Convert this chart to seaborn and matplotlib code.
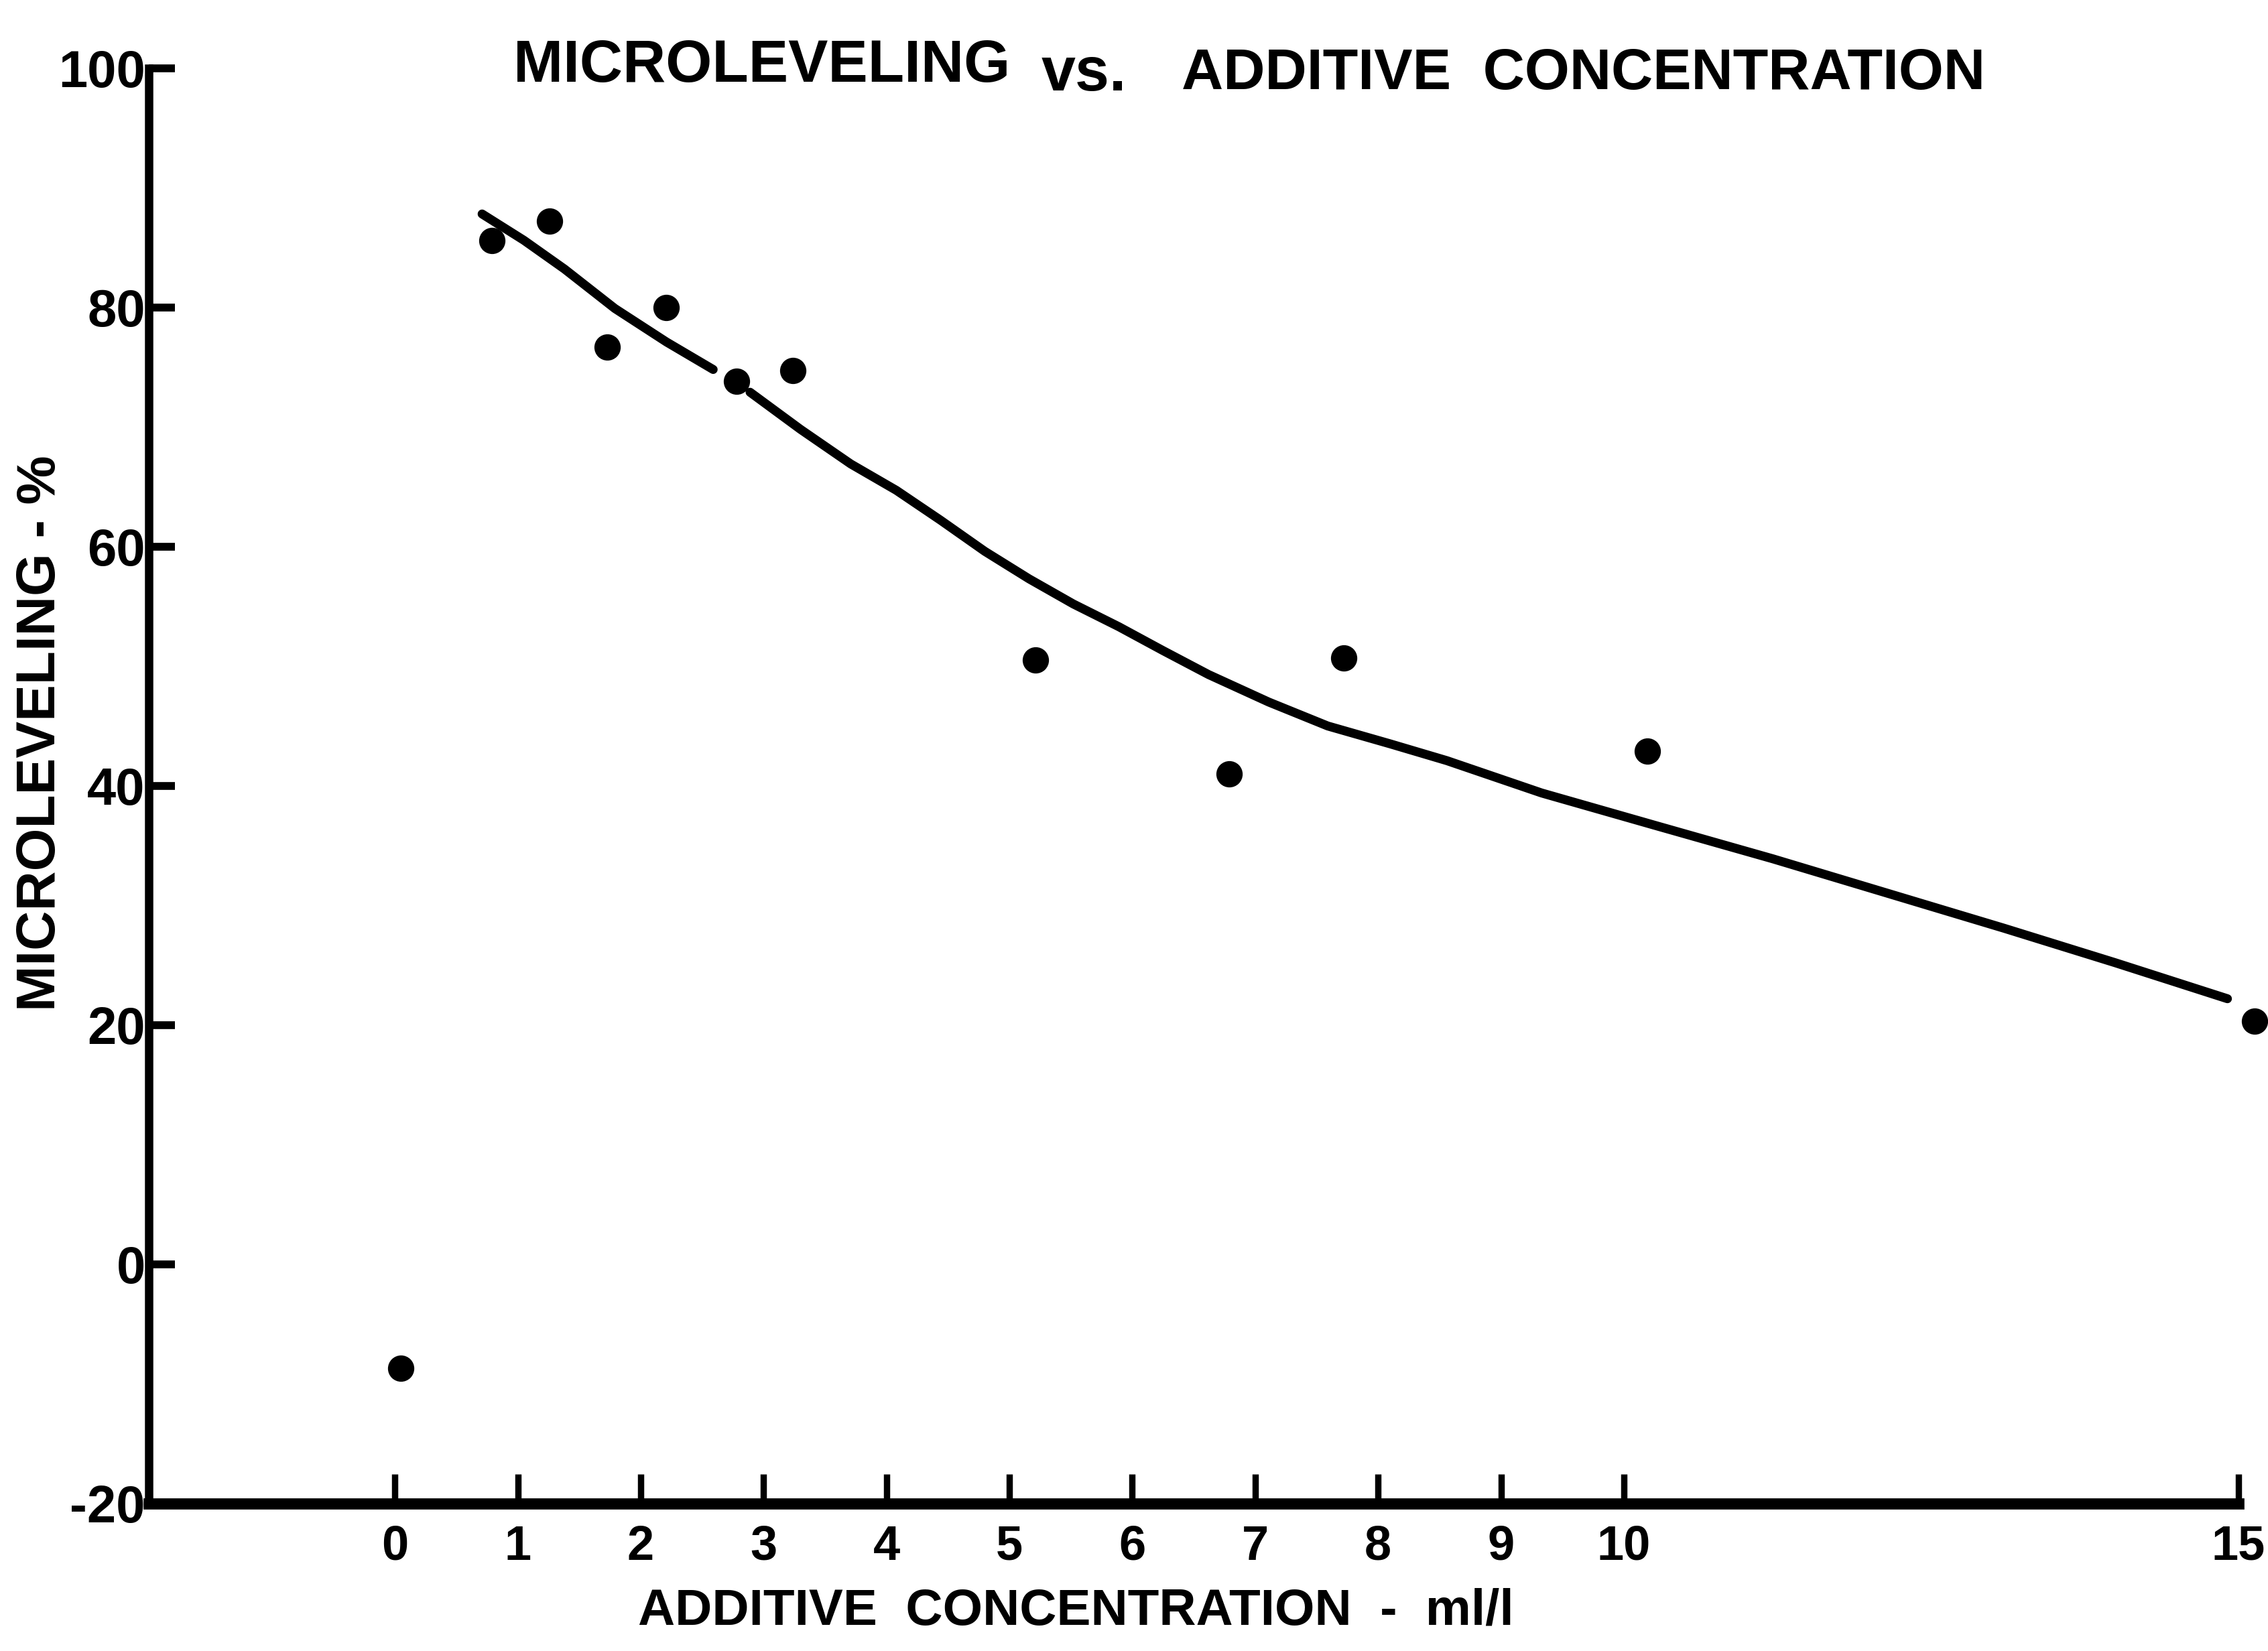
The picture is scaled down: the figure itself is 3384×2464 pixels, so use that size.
import numpy as np
import pandas as pd
import matplotlib
matplotlib.use("Agg")
import matplotlib.pyplot as plt
import seaborn as sns

# ---- data ----
conc = [0.05, 0.79, 1.26, 1.73, 2.21, 2.78, 3.24, 5.21, 6.79, 7.72, 10.19, 15.13]
microleveling = [-8.7, 85.6, 87.2, 76.7, 80.0, 73.8, 74.7, 50.5, 41.0, 50.7, 42.9, 20.3]

# hand-drawn trend curve (two strokes, broken near x = 2.7)
curve_a_x = [0.71, 1.05, 1.38, 1.79, 2.21, 2.59]
curve_a_y = [87.8, 85.6, 83.2, 79.9, 77.1, 74.8]
curve_b_x = [2.89, 3.30, 3.71, 4.08, 4.44, 4.80, 5.16, 5.52, 5.89, 6.25, 6.62, 7.11,
             7.59, 8.10, 8.56, 9.33, 10.25, 11.21, 12.15, 13.09, 14.00, 14.91]
curve_b_y = [72.9, 69.8, 66.9, 64.7, 62.2, 59.6, 57.3, 55.2, 53.3, 51.3, 49.3, 47.0,
             45.0, 43.5, 42.1, 39.4, 36.7, 33.9, 31.0, 28.1, 25.2, 22.2]

x_ticks = [0, 1, 2, 3, 4, 5, 6, 7, 8, 9, 10, 15]
x_tick_labels = ["0", "1", "2", "3", "4", "5", "6", "7", "8", "9", "10", "15"]
y_ticks = [-20, 0, 20, 40, 60, 80, 100]
y_tick_labels = ["-20", "0", "20", "40", "60", "80", "100"]

title_left = "MICROLEVELING"
title_mid = "vs."
title_right = "ADDITIVE  CONCENTRATION"
x_label = "ADDITIVE  CONCENTRATION  -  ml/l"
y_label = "MICROLEVELING - %"

# ---- style ----
sns.set_theme(style="white")
plt.rcParams["font.family"] = ["Liberation Sans", "DejaVu Sans"]
plt.rcParams["text.color"] = "black"

fig = plt.figure(figsize=(16.92, 12.32), dpi=200)
ax = fig.add_axes([0.0657, 0.0893, 0.9213, 0.8695])

pts = pd.DataFrame({"conc": conc, "lev": microleveling})
sns.scatterplot(data=pts, x="conc", y="lev", ax=ax, s=200, color="black",
                edgecolor="black", linewidth=0, clip_on=False, zorder=3)

ca = pd.DataFrame({"x": curve_a_x, "y": curve_a_y})
cb = pd.DataFrame({"x": curve_b_x, "y": curve_b_y})
for seg in (ca, cb):
    sns.lineplot(data=seg, x="x", y="y", ax=ax, color="black", lw=4.8,
                 sort=False, estimator=None, solid_capstyle="round",
                 solid_joinstyle="round")

ax.set_xlim(-2, 15)
ax.set_ylim(-20, 100)
ax.set_xticks(x_ticks)
ax.set_xticklabels(x_tick_labels)
ax.set_yticks(y_ticks)
ax.set_yticklabels(y_tick_labels)
ax.set_xlabel("")
ax.set_ylabel("")

for s in ["top", "right"]:
    ax.spines[s].set_visible(False)
ax.spines["bottom"].set_linewidth(6)
ax.spines["left"].set_linewidth(4.5)
ax.spines["bottom"].set_color("black")
ax.spines["left"].set_color("black")

ax.tick_params(axis="x", direction="in", length=16, width=3.4, pad=11,
               labelsize=26, colors="black", bottom=True)
ax.tick_params(axis="y", direction="in", length=14, width=4.2, pad=2,
               labelsize=28, colors="black", left=True)
for lab in ax.get_xticklabels() + ax.get_yticklabels():
    lab.set_fontweight("bold")

# titles and axis labels
fig.text(0.2265, 0.960, title_left, ha="left", va="center", fontsize=32,
         fontweight="bold")
fig.text(0.459, 0.955, title_mid, ha="left", va="center", fontsize=33,
         fontweight="bold")
fig.text(0.521, 0.955, title_right, ha="left", va="center", fontsize=31,
         fontweight="bold")
fig.text(0.4745, 0.024, x_label, ha="center", va="center", fontsize=27.5,
         fontweight="bold")
fig.text(0.018, 0.556, y_label, ha="center", va="center", fontsize=29.5,
         fontweight="bold", rotation=90)

fig.savefig("out.png", dpi=200, facecolor="white")
